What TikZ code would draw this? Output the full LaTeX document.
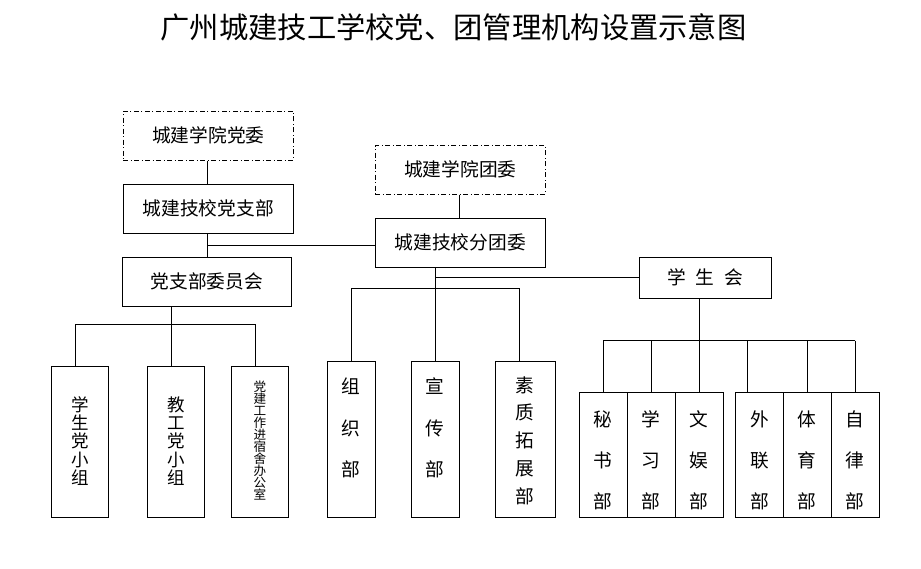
\documentclass[tikz,border=0pt]{standalone}
\usepackage{fontspec}
\setmainfont{Noto Sans CJK SC}
\begin{document}
\begin{tikzpicture}[x=1pt,y=-1pt,
  solidbox/.style={draw, line width=1pt, inner sep=0pt, font=\fontsize{18.7}{22}\selectfont},
  dashbox/.style={solidbox, dash pattern=on 5pt off 2.5pt on 1pt off 2.5pt},
  tallbox/.style={draw, line width=1pt, inner sep=0pt},
  link/.style={line width=1pt},
  vtext/.style={align=center, inner sep=0pt},
  bigv/.style={vtext, font=\fontsize{18.7}{41.5}\selectfont},
  smallv/.style={vtext, font=\fontsize{17.5}{18.4}\selectfont},
  tinyv/.style={vtext, font=\fontsize{12.6}{12}\selectfont},
  rightv/.style={vtext, font=\fontsize{18.7}{41}\selectfont},
  midv/.style={vtext, font=\fontsize{18.7}{27.7}\selectfont}
]
\useasboundingbox (0,0) rectangle (921,569);

% title
\node[inner sep=0pt, font=\fontsize{29.3}{32}\selectfont] (title) at (453.5,27) {广州城建技工学校党、团管理机构设置示意图};

% upper boxes
\node[dashbox, minimum width=170pt, minimum height=49.3pt] (dw) at (208.3,135.7) {城建学院党委};
\node[solidbox, minimum width=170pt, minimum height=49pt] (zb) at (208.3,208.8) {城建技校党支部};
\node[solidbox, minimum width=169pt, minimum height=49pt] (wy) at (206.8,281.8) {党支部委员会};
\node[dashbox, minimum width=170pt, minimum height=48.7pt] (tw) at (460.3,169.7) {城建学院团委};
\node[solidbox, minimum width=170pt, minimum height=49pt] (ftw) at (460.3,242.8) {城建技校分团委};
\node[solidbox, minimum width=132pt, minimum height=41pt] (xsh) at (705.3,277.8) {学\hspace{10pt}生\hspace{10pt}会};

% left bottom boxes
\node[tallbox, minimum width=57pt, minimum height=151.3pt] (xs) at (80.2,441.7) {};
\node[tallbox, minimum width=57pt, minimum height=151.3pt] (jg) at (175.8,441.7) {};
\node[tallbox, minimum width=57pt, minimum height=151.3pt] (dj) at (259.8,441.7) {};
\node[smallv] (xst) at (80.2,441) {学\\生\\党\\小\\组};
\node[smallv] (jgt) at (175.8,441) {教\\工\\党\\小\\组};
\node[tinyv] (djt) at (259.8,441) {党\\建\\工\\作\\进\\宿\\舍\\办\\公\\室};

% middle bottom boxes
\node[tallbox, minimum width=48pt, minimum height=156.3pt] (zz) at (351.3,439.2) {};
\node[tallbox, minimum width=48pt, minimum height=156.3pt] (xc) at (435.3,439.2) {};
\node[tallbox, minimum width=60pt, minimum height=156.3pt] (sz) at (525.3,439.2) {};
\node[bigv] (zzt) at (351.3,428) {组\\织\\部};
\node[bigv] (xct) at (435.3,428) {宣\\传\\部};
\node[midv] (szt) at (525.3,440.5) {素\\质\\拓\\展\\部};

% right bottom boxes
\foreach \n/\x/\t in {ms/603.3/秘\\书\\部, xx/651.3/学\\习\\部, wyu/699.3/文\\娱\\部, wl/759.5/外\\联\\部, ty/807.3/体\\育\\部, zl/855.3/自\\律\\部}{
  \node[tallbox, minimum width=48pt, minimum height=124.7pt] (\n) at (\x,454.7) {};
  \node[rightv] (\n t) at (\x,460) {\t};
}

% connectors: party side
\draw[link] ([xshift=-1pt]dw.south) -- ([xshift=-1pt]zb.north);
\draw[link] ([xshift=-1pt]zb.south) -- ([xshift=-1pt]zb.south |- wy.north);
\draw[link] ([xshift=-1pt,yshift=-3.2pt]zb.south |- ftw.west) -- ([yshift=-3.2pt]ftw.west);
\coordinate (L1) at (75.3,324.3);
\coordinate (L2) at (171.3,324.3);
\coordinate (L3) at (255.3,324.3);
\draw[link] (L2 |- wy.south) -- (L2);
\draw[link] (L1) -- (L3);
\draw[link] (L1) -- (L1 |- xs.north);
\draw[link] (L2) -- (L2 |- jg.north);
\draw[link] (L3) -- (L3 |- dj.north);

% connectors: league side
\draw[link] ([xshift=-1pt]tw.south) -- ([xshift=-1pt]ftw.north);
\coordinate (M1) at (351.3,288.5);
\coordinate (M3) at (519.3,288.5);
\coordinate (MB) at (435.5,278);
\draw[link] (xc.north |- ftw.south) -- (xc.north);
\draw[link] (M1) -- (M3);
\draw[link] (M1) -- (M1 |- zz.north);
\draw[link] (M3) -- (M3 |- sz.north);
\draw[link] (MB) -- (MB -| xsh.west);

% connectors: student union
\coordinate (R1) at (603.3,340.7);
\coordinate (R2) at (651.7,340.7);
\coordinate (R3) at (699.3,340.7);
\coordinate (R4) at (747.3,340.7);
\coordinate (R5) at (807.3,340.7);
\coordinate (R6) at (855.3,340.7);
\draw[link] (R3 |- xsh.south) -- (R3);
\draw[link] (R1) -- (R6);
\draw[link] (R1) -- (R1 |- ms.north);
\draw[link] (R2) -- (R2 |- xx.north);
\draw[link] (R3) -- (R3 |- wyu.north);
\draw[link] (R4) -- (R4 |- wl.north);
\draw[link] (R5) -- (R5 |- ty.north);
\draw[link] (R6) -- (R6 |- zl.north);
\end{tikzpicture}
\end{document}
